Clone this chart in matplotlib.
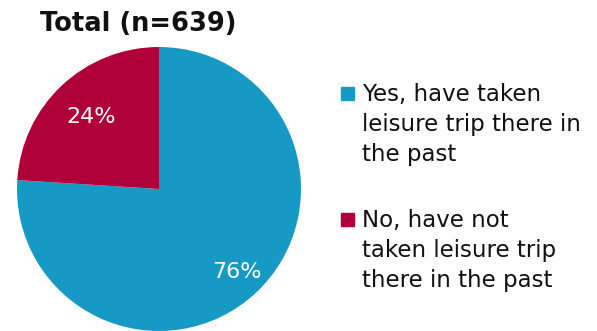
import numpy as np
import matplotlib.pyplot as plt
from matplotlib.patches import Rectangle

# Survey results
categories = ["Yes, have taken\nleisure trip there in\nthe past",
              "No, have not\ntaken leisure trip\nthere in the past"]
shares = [76, 24]
colors = ["#1799c6", "#b0003a"]
title = "Total (n=639)"

W, H = 597, 331
fig = plt.figure(figsize=(W / 100, H / 100), dpi=100)
plt.rcParams['font.family'] = ['DejaVu Sans']

# Pie axes: centre (159, 189) px, radius 142 px
cx, cy, r = 159, 189, 142
ax = fig.add_axes([(cx - r) / W, (H - cy - r) / H, 2 * r / W, 2 * r / H])
wedges, _ = ax.pie(shares, colors=colors, startangle=90, counterclock=False,
                   radius=1.0, wedgeprops=dict(linewidth=0))
ax.set_xlim(-1, 1)
ax.set_ylim(-1, 1)
ax.set_aspect('auto')
ax.axis('off')

# Percentage labels inside the slices
label_r = [0.80, 0.70]
for w, v, lr in zip(wedges, shares, label_r):
    mid = np.deg2rad((w.theta1 + w.theta2) / 2)
    ax.text(lr * np.cos(mid), lr * np.sin(mid), f"{v}%", color="white",
            fontsize=16, ha='center', va='center')

fig.text(138 / W, 1 - 24 / H, title, fontsize=18.5, fontweight='bold',
         ha='center', va='center', color='#111111')

# Legend drawn by hand: square marker beside the first line of each label
entry_tops = [87, 213]
for lab, col, top in zip(categories, colors, entry_tops):
    fig.patches.append(Rectangle((341 / W, 1 - (top + 13) / H), 13 / W, 13 / H,
                                 transform=fig.transFigure, color=col))
    fig.text(362 / W, 1 - (top - 4) / H, lab, fontsize=16.5, color='#111111',
             ha='left', va='top', linespacing=1.4)

fig.savefig("out.png", dpi=100)
